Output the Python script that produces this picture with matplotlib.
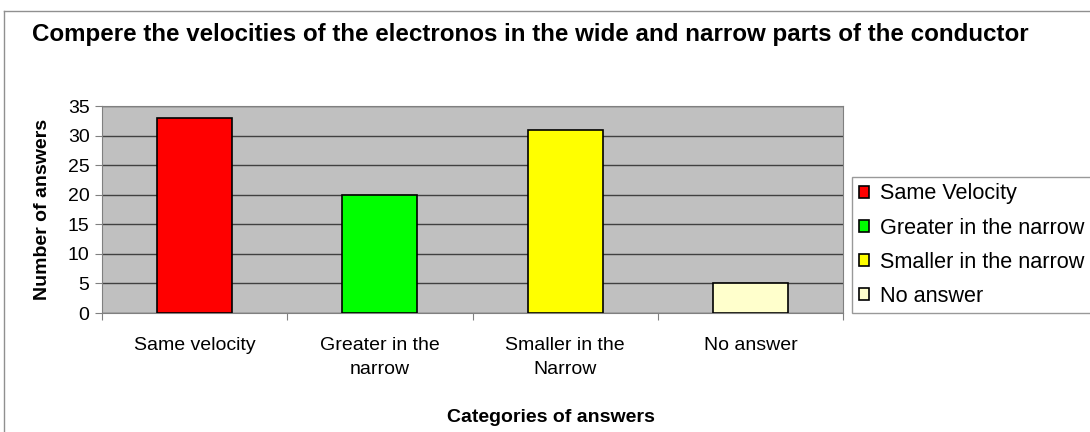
import matplotlib
matplotlib.use('Agg')
import matplotlib.pyplot as plt
from matplotlib.lines import Line2D

plt.rcParams['font.family'] = ['Liberation Sans', 'DejaVu Sans']

categories = ['Same velocity', 'Greater in the\nnarrow', 'Smaller in the\nNarrow', 'No answer']
legend_labels = ['Same Velocity', 'Greater in the narrow', 'Smaller in the narrow', 'No answer']
answers = [33, 20, 31, 5]
colors = ['#FF0000', '#00FF00', '#FFFF00', '#FFFFCC']

fig = plt.figure(figsize=(10.9, 4.32), dpi=100)
ax = fig.add_axes([102/1090, 1 - 313/432, 741/1090, 207/432])
ax.set_facecolor('#C0C0C0')

x = list(range(len(answers)))
for i in x:
    ax.bar(i, answers[i], width=0.405, color=colors[i], edgecolor='black',
           linewidth=1.2, label=legend_labels[i], zorder=3)

ax.set_xlim(-0.5, 3.5)
ax.set_ylim(0, 35)
ax.set_yticks(range(0, 36, 5))
ax.yaxis.grid(True, color='#404040', linewidth=1, zorder=1)
ax.set_axisbelow(True)

# ticks on the category boundaries, labels in the middle
ax.set_xticks([-0.5, 0.5, 1.5, 2.5, 3.5])
ax.set_xticklabels([])
ax.set_xticks(x, minor=True)
ax.set_xticklabels(categories, minor=True, fontsize=14, linespacing=1.55)
ax.tick_params(axis='x', which='minor', length=0, pad=17)
ax.tick_params(axis='x', which='major', length=5, color='#808080')
ax.tick_params(axis='y', length=5, color='#808080', labelsize=14, pad=4)

for s in ax.spines.values():
    s.set_color('#808080')

ax.set_ylabel('Number of answers', fontsize=14, fontweight='bold')
ax.yaxis.set_label_coords(-0.069, 0.5)

fig.text(551/1090, 1 - 418/432, 'Categories of answers', fontsize=14,
         fontweight='bold', ha='center', va='center')
fig.text(32/1090, 1 - 35/432, 'Compere the velocities of the electronos in the wide and narrow parts of the conductor',
         fontsize=17.4, fontweight='bold', ha='left', va='center')

# outer chart border
fig.add_artist(Line2D([4/1090, 4/1090], [0, 1 - 11/432], transform=fig.transFigure, color='#909090', linewidth=1))
fig.add_artist(Line2D([4/1090, 1], [1 - 11/432, 1 - 11/432], transform=fig.transFigure, color='#909090', linewidth=1))

leg = ax.legend(loc='upper left', bbox_to_anchor=(852/1090, 1 - 177/432),
                bbox_transform=fig.transFigure, fontsize=15.6, frameon=True,
                fancybox=False, borderaxespad=0, handlelength=0.5, handleheight=0.5,
                handletextpad=0.5, labelspacing=0.6, borderpad=0.3)
leg.get_frame().set_edgecolor('#808080')
leg.get_frame().set_linewidth(1)

plt.savefig('out.png', dpi=100)
